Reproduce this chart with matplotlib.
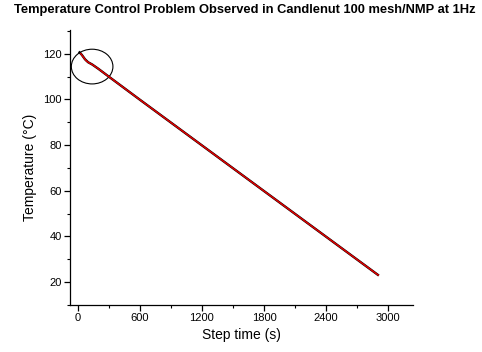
import matplotlib
matplotlib.use("Agg")
import matplotlib.pyplot as plt
from matplotlib.patches import Ellipse
from matplotlib.ticker import MultipleLocator

plt.rcParams['font.family'] = ['Liberation Sans', 'DejaVu Sans']

# Recorded temperature (black) and controlled temperature (red) during cooling
time_black = [10, 40, 70, 100, 140, 200, 300, 600, 900, 1200, 1500, 1800, 2100, 2400, 2700, 2910]
temp_black = [121.0, 119.5, 117.6, 116.3, 115.3, 113.4, 110.0, 99.9, 89.9, 79.9, 69.9, 59.9, 49.9, 39.9, 29.9, 22.9]

time_red = [25, 50, 80, 110, 140, 200, 300, 600, 900, 1200, 1500, 1800, 2100, 2400, 2700, 2910]
temp_red = [120.3, 118.8, 117.0, 116.0, 115.3, 113.4, 110.0, 99.9, 89.9, 79.9, 69.9, 59.9, 49.9, 39.9, 29.9, 22.9]

x_ticks = [0, 600, 1200, 1800, 2400, 3000]
y_ticks = [20, 40, 60, 80, 100, 120]

# Highlighted region: (centre time, centre temp, width, height)
circle_center = (139, 114.4)
circle_size = (402, 15.2)

fig = plt.figure(figsize=(4.82, 3.52), dpi=100)
ax = fig.add_axes([0.1452, 0.1335, 0.7116, 0.7812])

ax.plot(time_black, temp_black, color='black', lw=1.7, solid_capstyle='butt')
ax.plot(time_red, temp_red, color='#e00000', lw=1.1, solid_capstyle='butt')

ax.add_patch(Ellipse(circle_center, circle_size[0], circle_size[1],
                     fill=False, edgecolor='black', lw=0.8))

ax.set_xlim(-75, 3240)
ax.set_ylim(10, 130.4)
ax.set_xticks(x_ticks)
ax.set_yticks(y_ticks)
ax.xaxis.set_minor_locator(MultipleLocator(300))
ax.yaxis.set_minor_locator(MultipleLocator(10))

for side in ('top', 'right'):
    ax.spines[side].set_visible(False)
for side in ('left', 'bottom'):
    ax.spines[side].set_linewidth(0.9)

ax.tick_params(which='major', direction='out', length=4, width=0.9, labelsize=8, pad=2)
ax.tick_params(which='minor', direction='out', length=2.5, width=0.8)

ax.set_xlabel('Step time (s)', fontsize=10, labelpad=3)
ax.set_ylabel('Temperature (°C)', fontsize=10, labelpad=4)

fig.text(0.508, 0.972, 'Temperature Control Problem Observed in Candlenut 100 mesh/NMP at 1Hz',
         ha='center', va='center', fontsize=9.3, fontweight='bold')

fig.savefig('out.png', dpi=100)
